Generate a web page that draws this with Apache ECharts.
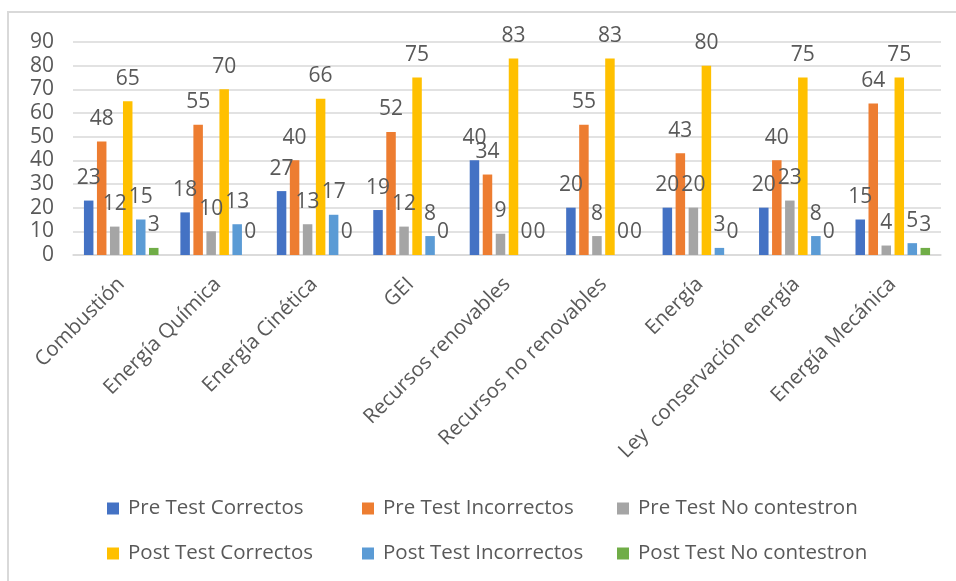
<!DOCTYPE html>
<html>
<head>
<meta charset="utf-8">
<script src="https://cdn.jsdelivr.net/npm/echarts@6/dist/echarts.min.js"></script>
<style>
  html, body { margin: 0; padding: 0; background: #fff; }
  #main { width: 956px; height: 581px; }
</style>
</head>
<body>
<div id="main"></div>
<script>
var categories = ["Combustión", "Energía Química", "Energía Cinética", "GEI", "Recursos renovables",
  "Recursos no renovables", "Energía", "Ley  conservación energía", "Energía Mecánica"];
var seriesNames = ["Pre Test Correctos", "Pre Test Incorrectos", "Pre Test No contestron",
  "Post Test Correctos", "Post Test Incorrectos", "Post Test No contestron"];
var preCorrectos = [23, 18, 27, 19, 40, 20, 20, 20, 15];
var preIncorrectos = [48, 55, 40, 52, 34, 55, 43, 40, 64];
var preNoContestron = [12, 10, 13, 12, 9, 8, 20, 23, 4];
var postCorrectos = [65, 70, 66, 75, 83, 83, 80, 75, 75];
var postIncorrectos = [15, 13, 17, 8, 0, 0, 3, 8, 5];
var postNoContestron = [3, 0, 0, 0, 0, 0, 0, 0, 3];
var colors = ["#4472C4", "#ED7D31", "#A5A5A5", "#FFC000", "#5B9BD5", "#70AD47"];

var allData = [preCorrectos, preIncorrectos, preNoContestron, postCorrectos, postIncorrectos, postNoContestron];
var textColor = "#595959";
var font = "Open Sans";

var chart = echarts.init(document.getElementById("main"));

var series = [];
for (var i = 0; i < seriesNames.length; i++) {
  series.push({
    name: seriesNames[i],
    type: "bar",
    data: allData[i],
    barWidth: 9.5,
    barGap: "37%",
    itemStyle: { color: colors[i] },
    label: {
      show: true,
      position: "top",
      distance: 12,
      color: textColor,
      fontFamily: font,
      fontSize: 21
    }
  });
}

var option = {
  animation: false,
  backgroundColor: "#fff",
  graphic: [
    {
      type: "polyline",
      shape: { points: [[8, 600], [8, 12], [960, 12]] },
      style: { stroke: "#d9d9d9", lineWidth: 2, fill: null }
    }
  ],
  grid: { left: 73, right: 15, top: 42, bottom: 326 },
  legend: {
    data: seriesNames,
    left: 102,
    top: 481,
    width: 800,
    itemGap: 0,
    itemWidth: 12,
    itemHeight: 12,
    icon: "rect",
    textStyle: {
      color: textColor,
      fontFamily: font,
      fontSize: 20.5,
      width: 234,
      padding: [0, 0, 0, 4],
      lineHeight: 45
    }
  },
  xAxis: {
    type: "category",
    data: categories,
    axisLine: { lineStyle: { color: "#d9d9d9", width: 1.5 } },
    axisTick: { show: false },
    axisLabel: {
      interval: 0,
      rotate: 45,
      margin: 26,
      color: textColor,
      fontFamily: font,
      fontSize: 20.5
    }
  },
  yAxis: {
    type: "value",
    min: 0,
    max: 90,
    interval: 10,
    axisLine: { show: false },
    axisTick: { show: false },
    splitLine: { lineStyle: { color: "#d9d9d9", width: 1.5 } },
    axisLabel: {
      margin: 19,
      color: textColor,
      fontFamily: font,
      fontSize: 21
    }
  },
  series: series
};

chart.setOption(option);
</script>
</body>
</html>
